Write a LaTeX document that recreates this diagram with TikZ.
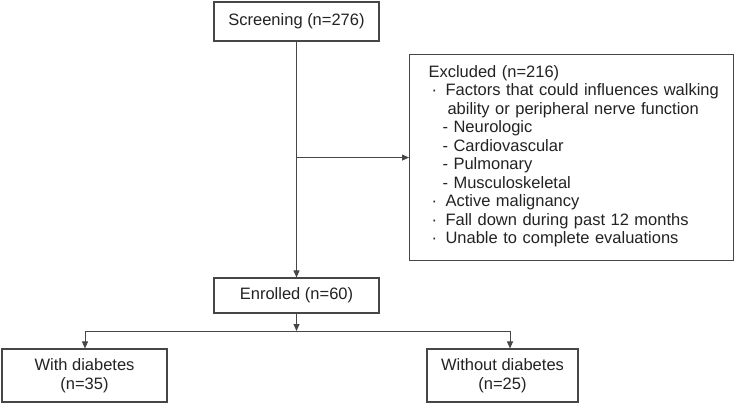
\documentclass[tikz,border=0pt]{standalone}
\usepackage{fontspec}
\setmainfont{Liberation Sans}
\usetikzlibrary{arrows.meta, positioning}
\definecolor{Borde}{RGB}{70, 70, 70}
\definecolor{Texto}{RGB}{35, 35, 35}

\begin{document}
\begin{tikzpicture}[
        x=1pt, y=-1pt,
        caja/.style={draw=Borde, line width=1.1pt, fill=white, text=Texto, align=center, inner sep=0pt, font=\fontsize{16.5}{18.8}\selectfont},
        linea/.style={line width=0.9pt, draw=Borde},
        flecha/.style={linea, -{Triangle[length=7pt, width=6pt]}}
    ]
        % Marco de la figura (735 x 404)
        \useasboundingbox (0,0) rectangle (735,404);

        % Cajas principales
        \node[caja, minimum width=165, minimum height=39] (screen) at (296.5, 21.5) {Screening (n=276)};
        \node[caja, minimum width=165, minimum height=35] (enrolled) at (296.5, 295.5) {Enrolled (n=60)};

        % Caja de excluidos a la derecha
        \node[caja, align=left, anchor=north west, text width=304, inner xsep=10, inner ysep=11, minimum width=324, minimum height=206,
              font=\fontsize{16.5}{18.45}\selectfont] (excl) at (409, 54) {%
            \hspace*{9pt}Excluded (n=216)\\
            \hspace*{12pt}\makebox[14pt][l]{·}Factors that could influences walking\\
            \hspace*{28pt}ability or peripheral nerve function\\
            \hspace*{23pt}- Neurologic\\
            \hspace*{23pt}- Cardiovascular\\
            \hspace*{23pt}- Pulmonary\\
            \hspace*{23pt}- Musculoskeletal\\
            \hspace*{12pt}\makebox[14pt][l]{·}Active malignancy\\
            \hspace*{12pt}\makebox[14pt][l]{·}Fall down during past 12 months\\
            \hspace*{12pt}\makebox[14pt][l]{·}Unable to complete evaluations\rule[-6pt]{0pt}{6pt}};

        % Grupos finales
        \node[caja, minimum width=165, minimum height=53] (withd) at (84.5, 375.5) {With diabetes\\(n=35)};
        \node[caja, minimum width=151, minimum height=53] (without) at (502.5, 375.5) {Without diabetes\\(n=25)};

        % Flujo vertical y salida a excluidos
        \draw[flecha] (screen.south) -- (enrolled.north);
        \draw[flecha] (screen.south |- excl.west) -- (excl.west);

        % Division en dos grupos
        \coordinate (divI) at (85, 331);
        \coordinate (divD) at (510, 331);
        \draw[flecha] (enrolled.south) -- (enrolled.south |- divI);
        \draw[linea] (divI) -- (divD);
        \draw[flecha] (divI) -- (divI |- withd.north);
        \draw[flecha] (divD) -- (divD |- without.north);
    \end{tikzpicture}
\end{document}
